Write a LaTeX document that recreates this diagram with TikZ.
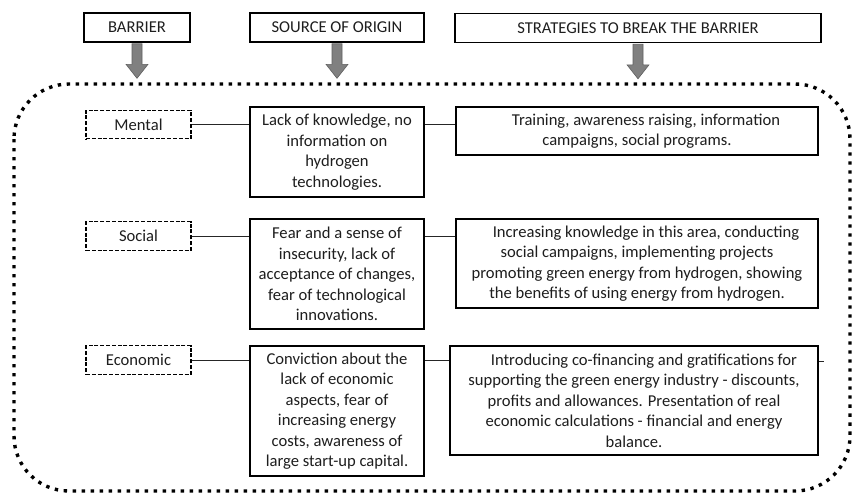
\documentclass[tikz,border=0pt]{standalone}
\usepackage{fontspec}
\setmainfont{Carlito}
\usetikzlibrary{calc}
\definecolor{txt}{RGB}{30,30,30}
\definecolor{arrfill}{RGB}{128,128,128}
\definecolor{arrline}{RGB}{95,95,95}
\begin{document}
\begin{tikzpicture}[x=1pt,y=-1pt,
  every node/.style={font=\fontsize{16.6}{20.5}\selectfont, text=txt, inner sep=0pt},
  headbox/.style={draw=black, line width=1.8pt, minimum height=29pt},
  barbox/.style={draw=black, line width=1.3pt, dash pattern=on 4pt off 1.8pt, minimum width=105pt, minimum height=28.5pt},
  srcbox/.style={draw=black, line width=1.8pt, minimum width=174pt, align=center},
  stratbox/.style={draw=black, line width=1.8pt, align=center},
  conn/.style={draw=black!85, line width=1pt},
  downarrow/.style={fill=arrfill, draw=arrline, line width=0.6pt},
  border/.style={draw=black, line width=3.4pt, dash pattern=on 3.4pt off 5.6pt, rounded corners=55pt}]
\useasboundingbox[fill=white] (0,0) rectangle (853,495);

% header boxes
\node[headbox, minimum width=106pt] (hb) at (137,27.5) {BARRIER};
\node[headbox, minimum width=174pt] (hs) at (337,27.5) {SOURCE OF ORIGIN};
\node[headbox, minimum width=366pt] (ht) at (638,28) {STRATEGIES TO BREAK THE BARRIER};

% down arrows
\foreach \h in {hb,hs,ht}{
  \draw[downarrow] ($(\h.south)+(-5,0.9)$) -- ++(0,20.5) -- ++(-6,0) -- ++(11,14) -- ++(11,-14) -- ++(-6,0) -- ++(0,-20.5) -- cycle;
}

% outer dotted border
\draw[border] (14,84) rectangle (850,491);

% barrier boxes
\node[barbox] (m) at (138.5,124.5) {Mental};
\node[barbox] (so) at (138.5,236) {Social};
\node[barbox] (ec) at (138.5,360) {Economic};

% source boxes
\node[srcbox, minimum height=90pt] (s1) at (337,152) {Lack of knowledge, no\\ information on\\ hydrogen\\ technologies.};
\node[srcbox, minimum height=110pt] (s2) at (337,274) {Fear and a sense of\\ insecurity, lack of\\ acceptance of changes,\\ fear of technological\\ innovations.};
\node[srcbox, minimum height=130pt] (s3) at (337,411) {Conviction about the\\ lack of economic\\ aspects, fear of\\ increasing energy\\ costs, awareness of\\ large start-up capital.};

% strategy boxes
\node[stratbox, minimum width=362pt, minimum height=48pt] (t1) at (637,131) {\hspace*{18pt}Training, awareness raising, information\\ campaigns, social programs.};
\node[stratbox, minimum width=362pt, minimum height=89pt] (t2) at (637,263.5) {\hspace*{18pt}Increasing knowledge in this area, conducting\\ social campaigns, implementing projects\\ promoting green energy from hydrogen, showing\\ the benefits of using energy from hydrogen.};
\node[stratbox, minimum width=368pt, minimum height=109pt] (t3) at (634,400.5) {\hspace*{20pt}Introducing co-financing and gratifications for\\ supporting the green energy industry - discounts,\\ profits and allowances. Presentation of real\\ economic calculations - financial and energy\\ balance.};

% connectors
\draw[conn] (m.east) -- (m.east -| s1.west);
\draw[conn] (m.east -| s1.east) -- (m.east -| t1.west);
\draw[conn] (so.east) -- (so.east -| s2.west);
\draw[conn] (so.east -| s2.east) -- (so.east -| t2.west);
\draw[conn] (ec.east) -- (ec.east -| s3.west);
\draw[conn] (ec.east -| s3.east) -- (ec.east -| t3.west);
\coordinate (tick) at ($(t3.north east)+(5,16)$);
\draw[conn, line width=0.8pt] (t3.north east |- tick) -- (tick);
\end{tikzpicture}
\end{document}
